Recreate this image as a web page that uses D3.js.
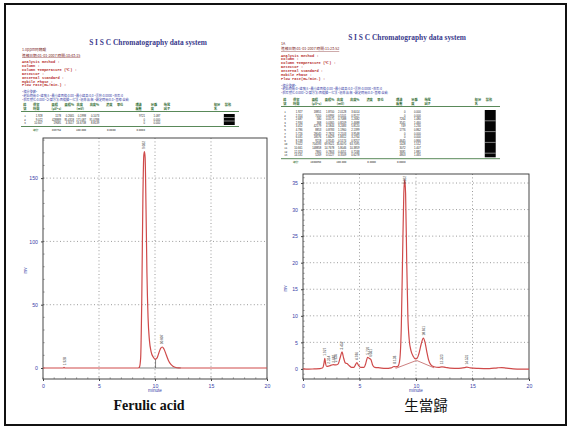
<!DOCTYPE html>
<html>
<head>
<meta charset="utf-8">
<script src="https://cdn.jsdelivr.net/npm/d3@7"></script>
<style>
  html, body { margin: 0; padding: 0; background: #fff; }
  svg { display: block; }
</style>
</head>
<body>
<svg id="fig" width="571" height="428"></svg>
<script>
// ---------- data ----------
const xTicks = [0, 5, 10, 15, 20];
const leftYTicks = [0, 50, 100, 150];
const rightYTicks = [0, 5, 10, 15, 20, 25, 30, 35];

// Ferulic acid standard trace: [minute, mV]
const leftTrace = [
  [0, 0], [1.8, 0], [1.88, 0.6], [1.95, 0], [8.5, 0], [8.62, 1], [8.72, 8],
  [8.82, 55], [8.92, 135], [9.0, 168], [9.06, 171], [9.12, 166], [9.2, 125],
  [9.28, 75], [9.38, 40], [9.5, 22], [9.65, 13], [9.85, 8.5], [10.05, 7],
  [10.2, 8.2], [10.35, 12], [10.5, 15.5], [10.65, 16.6], [10.8, 15], [11.0, 10.5],
  [11.2, 6], [11.4, 3], [11.6, 1.4], [11.8, 0.6], [12.1, 0.1], [12.4, 0], [20, 0]
];
const leftPeakTimes = [1.928, 9.022, 10.607];
const leftPeakHeights = [0.2, 171.1, 16.7];

// 生當歸 sample trace: [minute, mV]
const rightTrace = [
  [0, 0], [0.5, -0.05], [1, 0], [1.5, 0.05], [1.75, 0.2], [1.85, 1.0], [1.93, 2.0],
  [2.0, 1.0], [2.1, 0.45], [2.3, 0.55], [2.5, 0.7], [2.7, 0.8], [2.9, 0.75], [3.1, 0.9],
  [3.3, 2.2], [3.45, 3.2], [3.6, 2.0], [3.75, 1.1], [3.9, 1.0], [4.1, 0.6], [4.3, 0.3],
  [4.5, 0.3], [4.65, 0.8], [4.77, 1.2], [4.9, 0.7], [5.1, 0.3], [5.4, 0.3], [5.55, 1.0],
  [5.72, 2.2], [5.85, 2.0], [6.0, 1.8], [6.15, 0.8], [6.35, 0.3], [6.8, 0.2], [7.3, 0.1],
  [7.8, 0.2], [8.05, 0.45], [8.2, 0.4], [8.4, 0.5], [8.55, 1.5], [8.7, 8], [8.82, 22],
  [8.92, 33], [9.0, 35.6], [9.08, 33], [9.18, 20], [9.28, 10], [9.4, 5.5], [9.55, 3.5],
  [9.75, 2.4], [9.95, 1.9], [10.1, 2.0], [10.25, 2.8], [10.45, 4.6], [10.65, 5.8],
  [10.8, 5.0], [10.95, 3.3], [11.1, 1.8], [11.3, 0.8], [11.6, 0.4], [12.0, 0.3],
  [12.3, 0.4], [12.6, 0.3], [13.0, 0.15], [13.8, 0.1], [14.3, 0.25], [14.5, 0.35],
  [14.8, 0.2], [15.5, 0.1], [16.5, 0.05], [17.2, 0.2], [17.6, 0.25], [18.0, 0.15],
  [18.6, 0.0], [19.3, -0.05], [20, -0.05]
];
const rightPeakTimes = [1.927, 2.314, 2.687, 2.934, 3.452, 4.786, 5.726, 6.031, 8.138, 9.022, 10.661, 12.323, 14.531];
const rightPeakHeights = [2.0, 0.5, 0.7, 0.8, 3.2, 1.2, 2.2, 1.8, 0.5, 35.6, 5.8, 0.4, 0.35];
// tangent-skim baseline under the main peak
const rightSkim = [[8.2, 0.1], [10.05, 1.6], [11.6, 0.2]];

const leftInfo = ["1.0ppm阿魏酸", "進樣日期:01-01-2007  時間:10:43:15"];
const rightInfo = ["1A", "進樣日期:01-01-2007  時間:11:23:52"];
const methodLines = ["Analysis method :", "Column :", "Column Temperature (℃) :", "Detector :",
  "Internal standard :", "Mobile Phase :", "Flow rate(mL/min.) :"];
const paramLines = ["*積分參數*",
  "*起始時間:0  *峰寬:5  *最小峰面積:0.00 *最小峰高:0.0  *漂移:0.0000 *斜率:0",
  "*斜率變化:0.000 *計算方法:面積歸一化法 *標準品:無  *鎖定時間:0.0 *基線:自動"];

const tableHead = [["峰","號"], ["保留","時間"], ["面積","(µV*s)"], ["面積%",""], ["高度","(mV)"],
  ["高度%",""], ["濃度",""], ["單位",""], ["理論","板數"], ["分離","度"], ["拖尾","因子"], ["組分","名"], ["狀態",""]];

const leftRT = ["1.928", "9.022", "10.607"];
const leftArea = ["1178", "428889", "19685"];
const leftAreaPct = ["0.2665", "95.4318", "4.3017"];
const leftHeight = ["0.1998", "171.087", "16.6738"];
const leftHeightPct = ["0.1073", "91.0788", "8.8139"];
const leftPlates = ["9721", "0", "0"];
const leftRes = ["1.087", "0.000", "0.000"];
const leftTotal = ["總計", "449752", "100.000", "0.0000", "0.0000"];

const rightRT = ["1.927", "2.314", "2.687", "2.934", "3.452", "4.786", "5.726", "6.031", "8.138", "9.022", "10.661", "12.323", "14.531"];
const rightArea = ["18851", "7050", "580", "368", "42179", "8853", "28045", "18576", "9218", "704593", "148858", "7865", "5269"];
const rightAreaPct = ["1.8700", "0.6994", "0.0575", "0.0365", "4.1844", "0.8783", "2.7823", "1.8429", "0.9145", "69.9021", "14.7678", "0.7803", "0.5227"];
const rightHeight = ["2.0128", "0.5101", "0.7088", "0.8209", "3.2483", "1.1960", "2.2103", "1.8312", "0.5174", "35.6070", "5.8046", "0.4051", "0.3509"];
const rightHeightPct = ["3.6014", "0.9127", "1.2682", "1.4688", "5.8120", "2.1399", "3.9548", "3.2764", "0.9257", "63.7095", "10.3859", "0.7248", "0.6278"];
const rightPlates = ["0", "0", "7264", "3541", "749", "1776", "0", "0", "4645", "1428", "3072", "3681", "4803"];
const rightRes = ["0.000", "0.000", "1.480", "1.460", "1.230", "0.862", "0.000", "0.000", "0.866", "1.512", "1.407", "1.881", "1.465"];
const rightTotal = ["總計", "1000860", "100.000", "0.0000", "0.0000"];

// ---------- drawing ----------
const svg = d3.select("#fig");
const BLUE = "#3b3fa8", RED = "#b52a2a", GREEN = "#2f6b2f", TRACE = "#cf4a4a";

svg.append("rect").attr("x", 5).attr("y", 4).attr("width", 561).attr("height", 421)
  .attr("fill", "none").attr("stroke", "#111").attr("stroke-width", 2);

function header(x0, titleX, titleY, info, infoY, lineGap) {
  svg.append("text").attr("x", titleX).attr("y", titleY).attr("text-anchor", "middle")
    .attr("font-family", "Liberation Serif, serif").attr("font-weight", "bold")
    .attr("font-size", 7.4).attr("fill", "#3a3a8c").text("S I S C Chromatography data system");
  const g = svg.append("g").attr("font-size", 3.7);
  g.append("text").attr("x", x0).attr("y", infoY).attr("fill", "#7a1c1c")
    .attr("font-family", "Noto Sans CJK TC, sans-serif").text(info[0]);
  g.append("text").attr("x", x0).attr("y", infoY + 5.5).attr("fill", "#7a1c1c")
    .attr("font-family", "Noto Sans CJK TC, sans-serif").attr("text-decoration", "underline").text(info[1]);
  methodLines.forEach((s, i) => {
    g.append("text").attr("x", x0).attr("y", infoY + 12 + i * lineGap).attr("fill", RED)
      .attr("font-family", "Liberation Mono, monospace").attr("font-weight", "bold").text(s);
  });
  const py = infoY + 12 + methodLines.length * lineGap + 3;
  paramLines.forEach((s, i) => {
    g.append("text").attr("x", x0).attr("y", py + i * 3.6).attr("fill", BLUE)
      .attr("font-family", "Noto Sans CJK TC, sans-serif").attr("font-size", 3.1).text(s);
  });
}

function table(x0, width, headY, rowY, rowGap, cols, nRows, totalRow) {
  const colFrac = [0.01, 0.055, 0.14, 0.2, 0.255, 0.315, 0.39, 0.44, 0.525, 0.595, 0.655, 0.885, 0.935];
  const xs = colFrac.map(f => x0 + f * width);
  const g = svg.append("g").attr("font-family", "Noto Sans CJK TC, sans-serif");
  tableHead.forEach((h, i) => {
    g.append("text").attr("x", xs[i]).attr("y", headY).attr("font-size", 3.2).attr("fill", GREEN)
      .attr("font-weight", "bold").text(h[0]);
    g.append("text").attr("x", xs[i]).attr("y", headY + 3.6).attr("font-size", 3.2).attr("fill", GREEN)
      .attr("font-weight", "bold").text(h[1]);
  });
  g.append("line").attr("x1", x0).attr("x2", x0 + width).attr("y1", headY + 5.5).attr("y2", headY + 5.5)
    .attr("stroke", GREEN).attr("stroke-width", 0.8);
  const lastRowY = rowY + (nRows - 1) * rowGap;
  g.append("line").attr("x1", x0).attr("x2", x0 + width).attr("y1", lastRowY + 2.5).attr("y2", lastRowY + 2.5)
    .attr("stroke", GREEN).attr("stroke-width", 0.8);
  const colIdx = [1, 2, 3, 4, 5, 6, 7, 8, 9, 10];
  for (let r = 0; r < nRows; r++) {
    const y = rowY + r * rowGap;
    g.append("text").attr("x", xs[0] + 1).attr("y", y).attr("font-size", 2.8).attr("fill", "#222").text(r + 1);
    cols.forEach((c, ci) => {
      if (c === null) return;
      g.append("text").attr("x", xs[colIdx[ci]] + 9.5).attr("y", y).attr("text-anchor", "end")
        .attr("font-size", 2.7).attr("fill", "#222").attr("font-family", "Liberation Sans, sans-serif").text(c[r]);
    });
  }
  // status column: black block with thin separators between rows
  const bx = xs[12] - 1, bw = width * 0.05;
  g.append("rect").attr("x", bx).attr("y", rowY - 3).attr("width", bw).attr("height", nRows * rowGap + 0.5)
    .attr("fill", "#050505");
  for (let r = 1; r < nRows; r++) {
    if (nRows > 4 && r % 3 !== 0) continue;
    g.append("line").attr("x1", bx).attr("x2", bx + bw)
      .attr("y1", rowY - 3 + r * rowGap).attr("y2", rowY - 3 + r * rowGap)
      .attr("stroke", "#fff").attr("stroke-width", 0.5);
  }
  const ty = lastRowY + 6.5;
  const tx = [xs[1], xs[2] + 9.5, xs[4] + 9.5, xs[6] + 9.5, xs[8] + 9.5];
  totalRow.forEach((s, i) => {
    g.append("text").attr("x", tx[i]).attr("y", ty).attr("text-anchor", i === 0 ? "start" : "end")
      .attr("font-size", 2.8).attr("fill", i === 0 ? GREEN : "#222").text(s);
  });
}

function chart(box, yDomain, yTicks, yMinor, trace, peakT, peakH, extra) {
  const x = d3.scaleLinear().domain([0, 20]).range([box.x0, box.x1]);
  const y = d3.scaleLinear().domain(yDomain).range([box.y1, box.y0]);
  const g = svg.append("g");
  // grid
  g.selectAll(".vg").data(xTicks.slice(1, -1)).join("line")
    .attr("x1", d => x(d)).attr("x2", d => x(d)).attr("y1", box.y0).attr("y2", box.y1)
    .attr("stroke", "#7a7a7a").attr("stroke-width", 0.75).attr("stroke-dasharray", "1,2.4");
  g.selectAll(".hg").data(yTicks.filter(d => d !== 0)).join("line")
    .attr("x1", box.x0).attr("x2", box.x1).attr("y1", d => y(d)).attr("y2", d => y(d))
    .attr("stroke", "#7a7a7a").attr("stroke-width", 0.75).attr("stroke-dasharray", "1,2.4");
  // frame
  g.append("rect").attr("x", box.x0).attr("y", box.y0).attr("width", box.x1 - box.x0)
    .attr("height", box.y1 - box.y0).attr("fill", "none").attr("stroke", "#333").attr("stroke-width", 0.9);
  // axes
  const xa = g.append("g").attr("transform", `translate(0,${box.y1})`)
    .call(d3.axisBottom(x).tickValues(xTicks).tickSize(2).tickPadding(3));
  const ya = g.append("g").attr("transform", `translate(${box.x0},0)`)
    .call(d3.axisLeft(y).tickValues(yTicks).tickSize(2).tickPadding(3));
  [xa, ya].forEach(a => {
    a.select(".domain").remove();
    a.selectAll("line").attr("stroke", "#444");
    a.selectAll("text").attr("fill", BLUE).attr("font-size", 5.2).attr("font-family", "Liberation Sans, sans-serif");
  });
  // minor ticks
  g.append("g").selectAll("line").data(d3.range(0, 20.01, 1)).join("line")
    .attr("x1", d => x(d)).attr("x2", d => x(d)).attr("y1", box.y1).attr("y2", box.y1 - 1.6)
    .attr("stroke", "#555").attr("stroke-width", 0.6);
  g.append("g").selectAll("line").data(yMinor).join("line")
    .attr("x1", box.x0).attr("x2", box.x0 + 1.6).attr("y1", d => y(d)).attr("y2", d => y(d))
    .attr("stroke", "#555").attr("stroke-width", 0.6);
  // axis titles
  g.append("text").attr("x", (box.x0 + box.x1) / 2).attr("y", box.y1 + 12.5).attr("text-anchor", "middle")
    .attr("font-size", 4.6).attr("fill", BLUE).attr("font-family", "Liberation Sans, sans-serif").text("minute");
  g.append("text").attr("transform", `translate(${box.x0 - 16},${(box.y0 + box.y1) / 2 + 12}) rotate(-90)`)
    .attr("text-anchor", "middle").attr("font-size", 4.6).attr("fill", BLUE)
    .attr("font-family", "Liberation Sans, sans-serif").text("mv");
  // clipped plot area
  const clipId = "clip" + Math.round(box.x0);
  svg.append("clipPath").attr("id", clipId).append("rect")
    .attr("x", box.x0).attr("y", box.y0 - 8).attr("width", box.x1 - box.x0).attr("height", box.y1 - box.y0 + 8);
  const p = g.append("g").attr("clip-path", `url(#${clipId})`);
  extra(p, x, y);
  const line = d3.line().x(d => x(d[0])).y(d => y(d[1])).curve(d3.curveMonotoneX);
  p.append("path").datum(trace).attr("d", line).attr("fill", "none")
    .attr("stroke", TRACE).attr("stroke-width", 1.2);
  // retention time labels
  peakT.forEach((t, i) => {
    const yy = Math.max(y(peakH[i]) - 2.5, box.y0 + 10);
    g.append("text").attr("transform", `translate(${x(t) + 1.2},${yy}) rotate(-90)`)
      .attr("font-size", 3.2).attr("fill", "#333").attr("font-family", "Liberation Sans, sans-serif")
      .text(t.toFixed(3));
  });
}

// left report
header(22, 148, 45, leftInfo, 51, 3.9);
table(21, 218, 106, 117, 3.5, [leftRT, leftArea, leftAreaPct, leftHeight, leftHeightPct, null, null, leftPlates, leftRes, null], 3, leftTotal);
chart({x0: 43, x1: 267, y0: 138, y1: 379}, [-8.7, 181.7], leftYTicks, d3.range(-0, 181, 10),
  leftTrace, leftPeakTimes, leftPeakHeights, (p, x, y) => {
    p.append("line").attr("x1", x(8.6)).attr("x2", x(12.3)).attr("y1", y(0)).attr("y2", y(0))
      .attr("stroke", "#333").attr("stroke-width", 0.6);
    p.append("line").attr("x1", x(8.62)).attr("x2", x(8.62)).attr("y1", y(0)).attr("y2", y(1))
      .attr("stroke", "#333").attr("stroke-width", 0.6);
    p.append("line").attr("x1", x(10.05)).attr("x2", x(10.05)).attr("y1", y(0)).attr("y2", y(7))
      .attr("stroke", "#333").attr("stroke-width", 0.6);
  });
svg.append("text").attr("x", 149).attr("y", 410).attr("text-anchor", "middle")
  .attr("font-family", "Liberation Serif, serif").attr("font-weight", "bold").attr("font-size", 14)
  .attr("fill", "#111").text("Ferulic acid");

// right report
header(281, 407, 40, rightInfo, 44.5, 3.9);
table(281, 219, 101, 113, 3.6, [rightRT, rightArea, rightAreaPct, rightHeight, rightHeightPct, null, null, rightPlates, rightRes, null], 13, rightTotal);
chart({x0: 303, x1: 529, y0: 174, y1: 379}, [-1.9, 36.7], rightYTicks, d3.range(-1, 36.5, 1),
  rightTrace, rightPeakTimes, rightPeakHeights, (p, x, y) => {
    p.append("path").datum(rightSkim)
      .attr("d", d3.line().x(d => x(d[0])).y(d => y(d[1])))
      .attr("fill", "none").attr("stroke", "#c06060").attr("stroke-width", 0.8);
  });
svg.append("text").attr("x", 426).attr("y", 411).attr("text-anchor", "middle")
  .attr("font-family", "Noto Sans CJK TC, sans-serif").attr("font-size", 14.5)
  .attr("fill", "#111").text("生當歸");
</script>
</body>
</html>
